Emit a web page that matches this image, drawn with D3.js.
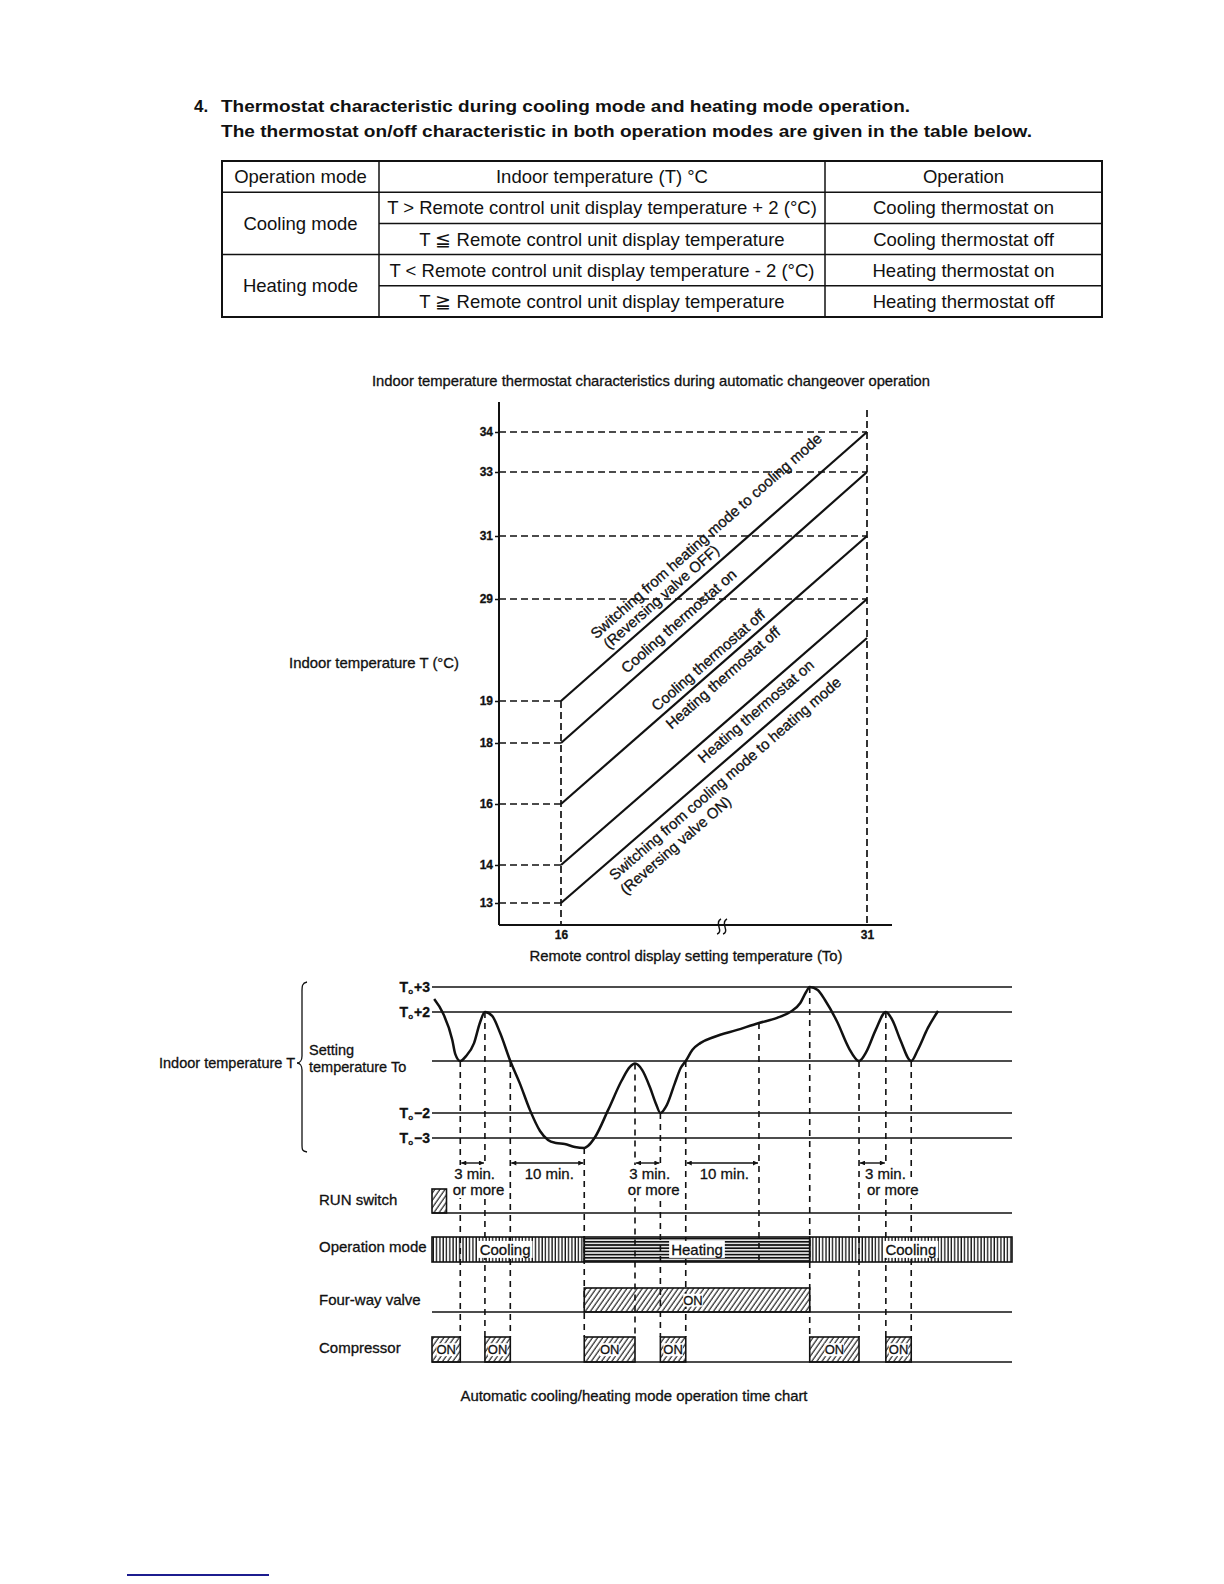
<!DOCTYPE html>
<html>
<head>
<meta charset="utf-8">
<script src="https://cdn.jsdelivr.net/npm/d3@7"></script>
<style>
  body { margin: 0; background: #fff; }
  text { font-family: "Liberation Sans", Arial, Helvetica, sans-serif; fill: #111; }
  .heavy text, text.heavy { stroke: #111; stroke-width: 0.3px; }
</style>
</head>
<body>
<div id="page"></div>
<script>
// heading + table
var headingLines = [
    "Thermostat characteristic during cooling mode and heating mode operation.",
    "The thermostat on/off characteristic in both operation modes are given in the table below."
];
var tableHeader = ["Operation mode", "Indoor temperature (T) °C", "Operation"];
var tableModes = ["Cooling mode", "Heating mode"];
var tableConditions = [
    "T > Remote control unit display temperature + 2 (°C)",
    "T \u2266 Remote control unit display temperature",
    "T < Remote control unit display temperature - 2 (°C)",
    "T \u2267 Remote control unit display temperature"
];
var tableOperations = ["Cooling thermostat on", "Cooling thermostat off", "Heating thermostat on", "Heating thermostat off"];

// thermostat characteristic chart
var setTemps = [16, 31];
var indoorTicks = [13, 14, 16, 18, 19, 29, 31, 33, 34];
var lineStartTemps = [19, 18, 16, 14, 13];
var lineEndTemps = [34, 33, 31, 29, 28];
var lineLabelTexts = [
    ["Switching from heating mode to cooling mode", "(Reversing valve OFF)"],
    ["Cooling thermostat on"],
    ["Cooling thermostat off", "Heating thermostat off"],
    ["Heating thermostat on"],
    ["Switching from cooling mode to heating mode", "(Reversing valve ON)"]
];

// time chart
var levelTicks = [3, 2, 0, -2, -3];
var levelSigns = ["+3", "+2", "", "\u22122", "\u22123"];
var curveTime = [0.3, 1.5, 2.8, 3.2, 3.9, 4.7, 5.8, 6.6, 7.3, 8.3, 9.4, 10.8, 12.1, 13.5, 14.9, 16.0, 17.1, 18.3, 19.7, 21.0,
    21.5, 22.5, 24.3, 26.2, 27.3, 28.0, 29.0, 30.1, 30.9, 31.5, 32.4, 33.5, 34.3, 35.0, 35.9, 37.0, 38.9, 42.1, 45.1,
    47.6, 49.4, 50.8, 51.6, 52.1, 53.2, 54.2, 55.9, 57.5, 58.9, 59.9, 61.2, 62.6, 63.5, 64.6, 66.1, 67.0, 68.4, 69.8];
var curveLevel = [2.52, 1.96, 0.86, 0.29, 0, 0.2, 0.73, 1.55, 2.0, 1.84, 1.14, 0, -0.85, -1.88, -2.72, -3.08, -3.2, -3.24, -3.36, -3.4,
    -3.32, -2.96, -1.88, -0.73, -0.23, -0.1, -0.35, -1.04, -1.65, -2.0, -1.69, -0.85, -0.27, 0, 0.45, 0.73, 0.98, 1.27, 1.55,
    1.76, 2.0, 2.36, 2.8, 3.0, 2.88, 2.48, 1.59, 0.53, 0, 0.37, 1.27, 2.0, 1.67, 0.86, 0, 0.45, 1.35, 2.04];
var eventTimes = [3.9, 7.3, 10.8, 21.0, 28.0, 31.5, 35.0, 45.1, 52.1, 58.9, 62.6, 66.1];
var eventLastRow = ["Compressor", "Compressor", "Compressor", "Compressor", "Compressor", "Compressor",
    "Compressor", "Operation mode", "Compressor", "Compressor", "Compressor", "Compressor"];
var rowNames = ["RUN switch", "Operation mode", "Four-way valve", "Compressor"];
var runSwitchOn = [[0, 2]];
var modeStart = [0, 21.0, 52.1];
var modeEnd = [21.0, 52.1, 80];
var modeNames = ["Cooling", "Heating", "Cooling"];
var valveOn = [[21.0, 52.1]];
var compressorOn = [[0, 3.9], [7.3, 10.8], [21.0, 28.0], [31.5, 35.0], [52.1, 58.9], [62.6, 66.1]];
var spanFrom = [3.9, 10.8, 28.0, 35.0, 58.9];
var spanTo = [7.3, 21.0, 31.5, 45.1, 62.6];
var spanText = [["3 min.", "or more"], ["10 min."], ["3 min.", "or more"], ["10 min."], ["3 min.", "or more"]];

var svg = d3.select("#page").append("svg")
    .attr("width", 1224)
    .attr("height", 1584);

function fit(sel, w) {
    return sel.attr("textLength", w).attr("lengthAdjust", "spacingAndGlyphs");
}

// hatch patterns
var defs = svg.append("defs");
defs.append("pattern").attr("id", "diag")
    .attr("patternUnits", "userSpaceOnUse").attr("width", 4.2).attr("height", 10)
    .attr("patternTransform", "rotate(35)")
    .append("line").attr("x1", 1).attr("x2", 1).attr("y1", 0).attr("y2", 10)
    .attr("stroke", "#111").attr("stroke-width", 1.1);
defs.append("pattern").attr("id", "vert")
    .attr("patternUnits", "userSpaceOnUse").attr("width", 3.3).attr("height", 10)
    .append("line").attr("x1", 1).attr("x2", 1).attr("y1", 0).attr("y2", 10)
    .attr("stroke", "#111").attr("stroke-width", 1.3);
defs.append("pattern").attr("id", "horiz")
    .attr("patternUnits", "userSpaceOnUse").attr("width", 10).attr("height", 3.2)
    .attr("y", 1237)
    .append("line").attr("x1", 0).attr("x2", 10).attr("y1", 1.6).attr("y2", 1.6)
    .attr("stroke", "#111").attr("stroke-width", 1.8);
var arrow = defs.append("marker").attr("id", "arr")
    .attr("viewBox", "0 0 10 10").attr("refX", 10).attr("refY", 5)
    .attr("markerWidth", 7).attr("markerHeight", 5).attr("markerUnits", "userSpaceOnUse")
    .attr("orient", "auto-start-reverse");
arrow.append("path").attr("d", "M0,0 L10,5 L0,10 z").attr("fill", "#111");

// ---------- heading ----------
svg.append("text").attr("x", 194).attr("y", 112)
    .attr("font-size", 17).attr("font-weight", "bold").text("4.");
headingLines.forEach(function (t, i) {
    fit(svg.append("text").attr("x", 221).attr("y", 112 + i * 25)
        .attr("font-size", 17).attr("font-weight", "bold").text(t), i === 0 ? 689 : 811);
});

// ---------- table ----------
var colX = [222, 379, 825, 1102];
var rowY = d3.scaleBand().domain(d3.range(5)).range([161, 317]);
var bw = rowY.bandwidth();
var table = svg.append("g").attr("stroke", "#111").attr("fill", "none");
table.append("rect").attr("x", colX[0]).attr("y", rowY(0))
    .attr("width", colX[3] - colX[0]).attr("height", bw * 5).attr("stroke-width", 2);
[1, 2].forEach(function (c) {
    table.append("line").attr("x1", colX[c]).attr("x2", colX[c])
        .attr("y1", rowY(0)).attr("y2", rowY(4) + bw).attr("stroke-width", 1.5);
});
[1, 2, 3, 4].forEach(function (r) {
    var full = (r % 2 === 1);
    table.append("line").attr("x1", full ? colX[0] : colX[1]).attr("x2", colX[3])
        .attr("y1", rowY(r)).attr("y2", rowY(r)).attr("stroke-width", 1.5);
});
var tt = svg.append("g").attr("font-size", 18.5).attr("text-anchor", "middle");
tableHeader.forEach(function (t, c) {
    tt.append("text").attr("x", (colX[c] + colX[c + 1]) / 2).attr("y", rowY(0) + bw / 2)
        .attr("dy", "0.36em").text(t);
});
tableModes.forEach(function (t, i) {
    tt.append("text").attr("x", (colX[0] + colX[1]) / 2).attr("y", rowY(1 + i * 2) + bw)
        .attr("dy", "0.36em").text(t);
});
tableConditions.forEach(function (t, i) {
    tt.append("text").attr("x", (colX[1] + colX[2]) / 2).attr("y", rowY(i + 1) + bw / 2)
        .attr("dy", "0.36em").text(t);
    tt.append("text").attr("x", (colX[2] + colX[3]) / 2).attr("y", rowY(i + 1) + bw / 2)
        .attr("dy", "0.36em").text(tableOperations[i]);
});

// ---------- characteristic chart ----------
var c1 = svg.append("g").attr("class", "heavy");
fit(c1.append("text").attr("x", 651).attr("y", 386).attr("font-size", 14.5)
    .attr("text-anchor", "middle")
    .text("Indoor temperature thermostat characteristics during automatic changeover operation"), 558);

var xSet = d3.scaleLinear().domain(d3.extent(setTemps)).range([561, 867]);
var yIn = d3.scaleLinear()
    .domain([13, 14, 16, 18, 19, 28, 29, 31, 33, 34])
    .range([903, 865, 804, 743, 701, 638, 599, 536, 472, 432]);
var axisX0 = 499, axisY0 = 925;

// dashed guides
var dash1 = c1.append("g").attr("stroke", "#111").attr("stroke-width", 1.7)
    .attr("stroke-dasharray", "7,4").attr("fill", "none");
lineStartTemps.forEach(function (v) {
    dash1.append("line").attr("x1", axisX0).attr("x2", xSet(16)).attr("y1", yIn(v)).attr("y2", yIn(v));
});
lineEndTemps.filter(function (v) { return indoorTicks.indexOf(v) >= 0; }).forEach(function (v) {
    dash1.append("line").attr("x1", axisX0).attr("x2", xSet(31)).attr("y1", yIn(v)).attr("y2", yIn(v));
});
dash1.append("line").attr("x1", xSet(16)).attr("x2", xSet(16)).attr("y1", yIn(19)).attr("y2", axisY0);
dash1.append("line").attr("x1", xSet(31)).attr("x2", xSet(31)).attr("y1", 410).attr("y2", axisY0);

// axes
var yAx = c1.append("g").attr("transform", "translate(" + axisX0 + ",0)")
    .call(d3.axisLeft(yIn).tickValues(indoorTicks).tickSize(4).tickPadding(2).tickFormat(d3.format("d")));
yAx.select(".domain").remove();
yAx.selectAll("line").attr("stroke", "#111").attr("stroke-width", 1.5);
yAx.selectAll("text").attr("font-size", 12).attr("font-weight", "bold")
    .attr("font-family", "\"Liberation Sans Narrow\", \"Liberation Sans\", Arial, sans-serif").attr("fill", "#111");
var xAx = c1.append("g").attr("transform", "translate(0," + axisY0 + ")")
    .call(d3.axisBottom(xSet).tickValues(setTemps).tickSize(0).tickPadding(5).tickFormat(d3.format("d")));
xAx.select(".domain").remove();
xAx.selectAll("text").attr("font-size", 12).attr("font-weight", "bold")
    .attr("font-family", "\"Liberation Sans Narrow\", \"Liberation Sans\", Arial, sans-serif").attr("fill", "#111");
c1.append("line").attr("x1", axisX0).attr("x2", axisX0).attr("y1", 402).attr("y2", axisY0)
    .attr("stroke", "#111").attr("stroke-width", 2);
c1.append("line").attr("x1", axisX0).attr("x2", 892).attr("y1", axisY0).attr("y2", axisY0)
    .attr("stroke", "#111").attr("stroke-width", 2);
// axis break mark
[0, 6].forEach(function (dx) {
    c1.append("path")
        .attr("d", "M" + (717 + dx) + ",934 q4,-1 2,-7 q-2,-6 2,-8")
        .attr("fill", "none").attr("stroke", "#111").attr("stroke-width", 1.4);
});

// characteristic lines
c1.selectAll(".tline").data(lineStartTemps).enter().append("line")
    .attr("class", "tline")
    .attr("x1", xSet(16)).attr("y1", function (d) { return yIn(d); })
    .attr("x2", xSet(31)).attr("y2", function (d, i) { return yIn(lineEndTemps[i]); })
    .attr("stroke", "#111").attr("stroke-width", 2.2);

// labels along the lines: [along, perpendicular offset, length]
var labelPlace = [
    [[67, 28, 302], [70, 12, 148]],
    [[95, 13, 148]],
    [[133, 11, 145], [132, -12, 146]],
    [[174, -12, 148]],
    [[55, -13.5, 301], [54, -31.5, 141]]
];
lineStartTemps.forEach(function (v, i) {
    var x0 = xSet(16), y0 = yIn(v), x1 = xSet(31), y1 = yIn(lineEndTemps[i]);
    var ang = Math.atan2(y0 - y1, x1 - x0) * 180 / Math.PI;
    var g = c1.append("g").attr("transform", "translate(" + x0 + "," + y0 + ") rotate(" + (-ang) + ")");
    lineLabelTexts[i].forEach(function (t, j) {
        var p = labelPlace[i][j];
        fit(g.append("text").attr("x", p[0]).attr("y", -p[1] + 5).attr("font-size", 15).text(t), p[2]);
    });
});
fit(c1.append("text").attr("x", 289).attr("y", 668).attr("font-size", 14.5)
    .text("Indoor temperature T (°C)"), 170);
fit(c1.append("text").attr("x", 686).attr("y", 961).attr("font-size", 14.5).attr("text-anchor", "middle")
    .text("Remote control display setting temperature (To)"), 313);

// ---------- time chart ----------
var c2 = svg.append("g").attr("class", "heavy");
var xT = d3.scaleLinear().domain([0, 80]).range([432, 1012]);
var yL = d3.scaleLinear().domain([-3, -2, 0, 2, 3]).range([1138, 1113, 1061, 1012, 987]);

c2.selectAll(".lvl").data(levelTicks).enter().append("line").attr("class", "lvl")
    .attr("x1", xT(0)).attr("x2", xT(80))
    .attr("y1", function (d) { return yL(d); }).attr("y2", function (d) { return yL(d); })
    .attr("stroke", "#111").attr("stroke-width", 1.6);
levelTicks.forEach(function (v, i) {
    if (v === 0) return;
    var t = c2.append("text").attr("x", 430).attr("y", yL(v) + 5).attr("text-anchor", "end")
        .attr("font-size", 14).attr("font-weight", "bold");
    t.append("tspan").text("T");
    t.append("tspan").attr("font-size", 8).attr("dy", 2).text("o");
    t.append("tspan").attr("dy", -2).attr("dx", 1).text(levelSigns[i]);
});
c2.append("text").attr("x", 309).attr("y", 1055).attr("font-size", 14.5).text("Setting");
c2.append("text").attr("x", 309).attr("y", 1072).attr("font-size", 14.5).text("temperature To");
fit(c2.append("text").attr("x", 159).attr("y", 1068).attr("font-size", 14.5).text("Indoor temperature T"), 136);
c2.append("path")
    .attr("d", "M307,982 C302,983 302,986 302,992 L302,1056 C302,1060 300,1063 297,1063 C300,1063 302,1066 302,1070 L302,1144 C302,1150 302,1151 307,1152")
    .attr("fill", "none").attr("stroke", "#111").attr("stroke-width", 1.3);

// rows
var rowBase = { "RUN switch": 1213, "Operation mode": 1262, "Four-way valve": 1312, "Compressor": 1362 };
var rowTop = { "RUN switch": 1189, "Operation mode": 1237, "Four-way valve": 1288, "Compressor": 1337 };
var rowLabelY = [1205, 1252, 1305, 1353];
rowNames.forEach(function (n, i) {
    c2.append("text").attr("x", 319).attr("y", rowLabelY[i]).attr("font-size", 15).text(n);
});
["RUN switch", "Four-way valve", "Compressor"].forEach(function (n) {
    c2.append("line").attr("x1", xT(0)).attr("x2", xT(80))
        .attr("y1", rowBase[n]).attr("y2", rowBase[n]).attr("stroke", "#111").attr("stroke-width", 1.6);
});

function hatchBoxes(spans, row, label) {
    spans.forEach(function (s) {
        c2.append("rect").attr("x", xT(s[0])).attr("y", rowTop[row])
            .attr("width", xT(s[1]) - xT(s[0])).attr("height", rowBase[row] - rowTop[row])
            .attr("fill", "url(#diag)").attr("stroke", "#111").attr("stroke-width", 1.6);
    });
}
hatchBoxes(runSwitchOn, "RUN switch");
hatchBoxes(valveOn, "Four-way valve");
hatchBoxes(compressorOn, "Compressor");

// operation mode bar
modeNames.forEach(function (m, i) {
    var a = xT(modeStart[i]), b = xT(modeEnd[i]);
    c2.append("rect").attr("x", a).attr("y", rowTop["Operation mode"])
        .attr("width", b - a).attr("height", rowBase["Operation mode"] - rowTop["Operation mode"])
        .attr("fill", m === "Cooling" ? "url(#vert)" : "url(#horiz)")
        .attr("stroke", "#111").attr("stroke-width", 1.6);
});

// event markers
var dash2 = c2.append("g").attr("stroke", "#111").attr("stroke-width", 1.6)
    .attr("stroke-dasharray", "6,5").attr("fill", "none");
eventTimes.forEach(function (t, i) {
    var lv = curveLevel[curveTime.indexOf(t)];
    dash2.append("line").attr("x1", xT(t)).attr("x2", xT(t))
        .attr("y1", yL(lv)).attr("y2", rowTop[eventLastRow[i]] + (eventLastRow[i] === "Operation mode" ? 25 : 0));
});

// labels on top of the hatched rows
function boxLabel(cx, cy, text, size, padX, padY) {
    var t = c2.append("text").attr("x", cx).attr("y", cy).attr("dy", "0.36em")
        .attr("text-anchor", "middle").attr("font-size", size).text(text);
    var bb = t.node().getBBox();
    c2.insert("rect", function () { return t.node(); })
        .attr("x", bb.x - padX).attr("y", bb.y - padY)
        .attr("width", bb.width + 2 * padX).attr("height", bb.height + 2 * padY).attr("fill", "#fff");
}
modeNames.forEach(function (m, i) {
    var cx = (xT(modeStart[i]) + xT(modeEnd[i])) / 2 - (i === 0 ? 3 : 0);
    boxLabel(cx, (rowTop["Operation mode"] + rowBase["Operation mode"]) / 2, m, 15, 2, 0);
});
valveOn.forEach(function (s) {
    boxLabel((xT(s[0]) + xT(s[1])) / 2 - 4, (rowTop["Four-way valve"] + rowBase["Four-way valve"]) / 2, "ON", 13, 0, -1);
});
compressorOn.forEach(function (s) {
    boxLabel((xT(s[0]) + xT(s[1])) / 2, (rowTop["Compressor"] + rowBase["Compressor"]) / 2, "ON", 13, 0, -1);
});

// temperature curve
var line = d3.line()
    .x(function (d) { return xT(d[0]); })
    .y(function (d) { return yL(d[1]); })
    .curve(d3.curveMonotoneX);
c2.append("path").datum(d3.zip(curveTime, curveLevel)).attr("d", line)
    .attr("fill", "none").attr("stroke", "#111").attr("stroke-width", 2.5);

// time spans
spanFrom.forEach(function (a, i) {
    var x1 = xT(a), x2 = xT(spanTo[i]);
    c2.append("line").attr("x1", x1 + 1).attr("x2", x2 - 1).attr("y1", 1163).attr("y2", 1163)
        .attr("stroke", "#111").attr("stroke-width", 1.4)
        .attr("marker-start", "url(#arr)").attr("marker-end", "url(#arr)");
    var last = (i === spanFrom.length - 1);
    spanText[i].forEach(function (t, j) {
        var tx = last ? x1 + 6 + j * 2 : (x1 + x2) / 2 + 2 + j * 4;
        var txt = c2.append("text").attr("x", tx).attr("y", 1179 + j * 16)
            .attr("text-anchor", last ? "start" : "middle").attr("font-size", 15).text(t);
        var bb = txt.node().getBBox();
        c2.insert("rect", function () { return txt.node(); })
            .attr("x", bb.x - 1).attr("y", bb.y).attr("width", bb.width + 2).attr("height", bb.height)
            .attr("fill", "#fff");
    });
});

fit(c2.append("text").attr("x", 634).attr("y", 1401).attr("font-size", 14.5).attr("text-anchor", "middle")
    .text("Automatic cooling/heating mode operation time chart"), 347);

svg.append("line").attr("x1", 127).attr("x2", 269).attr("y1", 1575).attr("y2", 1575)
    .attr("stroke", "#1c1c8f").attr("stroke-width", 2);
</script>
</body>
</html>
